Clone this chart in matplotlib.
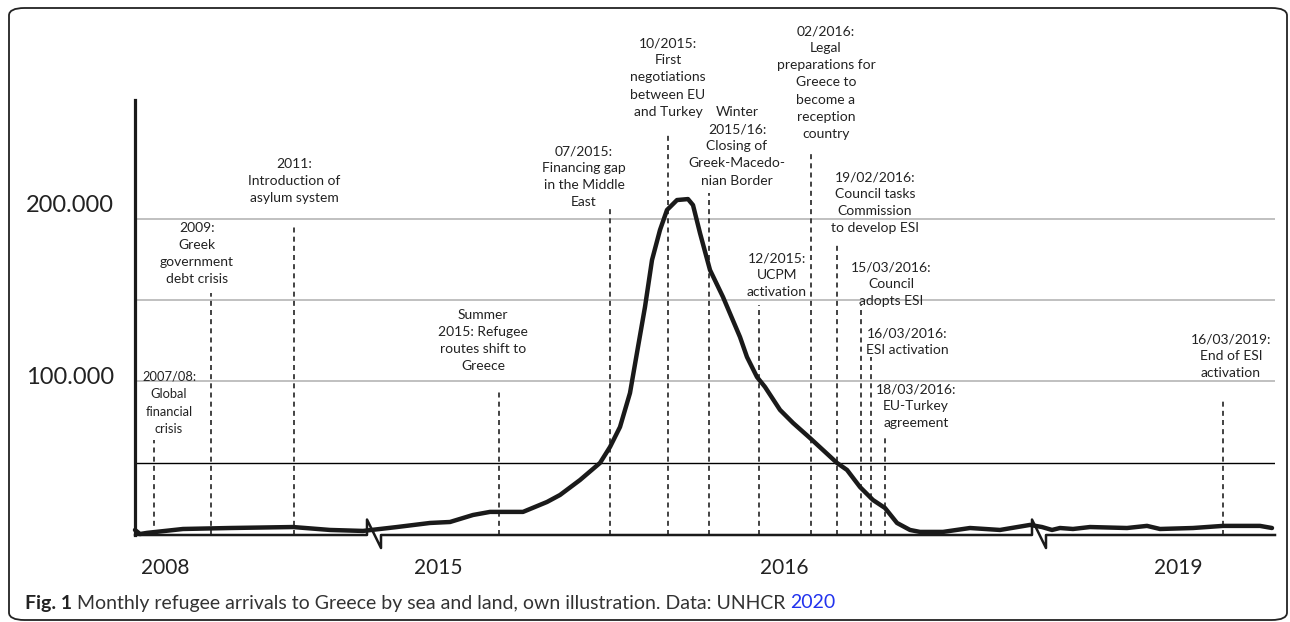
import matplotlib.pyplot as plt
from matplotlib.patches import FancyBboxPatch

plt.rcParams['font.family'] = ['Lato', 'DejaVu Sans']

# x is a schematic timeline position: the axis is broken twice, so no real date scale
curve_pos = [0, 5, 12, 48, 95, 158, 195, 228, 262, 295, 315, 338, 355, 388, 412, 425,
             445, 465, 475, 485, 495, 503, 510, 517, 525, 532, 542, 553, 558, 565, 575,
             588, 605, 612, 622, 630, 645, 658, 675, 702, 712, 725, 738, 750, 762, 775,
             785, 808, 835, 865, 895, 907, 917, 925, 938, 955, 992, 1012, 1025, 1058,
             1088, 1125, 1137]
curve_val = [8600, 6100, 6800, 9200, 9800, 10400, 8600, 8000, 10400, 12900, 13500,
             17800, 19700, 19700, 25800, 30100, 39300, 49800, 59600, 71900, 92800,
             121100, 145700, 174500, 193000, 205300, 211400, 212000, 208300, 191100,
             168400, 151800, 127200, 114900, 102600, 96500, 82400, 74400, 65100, 49800,
             45500, 35000, 27000, 22100, 12900, 8600, 7400, 7400, 9800, 8600, 11700,
             10400, 8600, 9800, 9200, 10400, 9800, 11100, 9200, 9800, 11100, 11100, 9800]

event_text = ["2007/08:\nGlobal\nfinancial\ncrisis",
              "2009:\nGreek\ngovernment\ndebt crisis",
              "2011:\nIntroduction of\nasylum system",
              "Summer\n2015: Refugee\nroutes shift to\nGreece",
              "07/2015:\nFinancing gap\nin the Middle\nEast",
              "10/2015:\nFirst\nnegotiations\nbetween EU\nand Turkey",
              "Winter\n2015/16:\nClosing of\nGreek-Macedo-\nnian Border",
              "12/2015:\nUCPM\nactivation",
              "02/2016:\nLegal\npreparations for\nGreece to\nbecome a\nreception\ncountry",
              "19/02/2016:\nCouncil tasks\nCommission\nto develop ESI",
              "15/03/2016:\nCouncil\nadopts ESI",
              "16/03/2016:\nESI activation",
              "18/03/2016:\nEU-Turkey\nagreement",
              "16/03/2019:\nEnd of ESI\nactivation"]
event_pos = [19, 76, 159, 364, 475, 533, 574, 624, 676, 702, 726, 736, 750, 1088]
event_top = [63900, 154300, 194800, 94600, 207100, 251400, 215700, 146900, 240300,
             185000, 146900, 114900, 65800, 88500]
label_pos = [34, 62, 159, 348, 449, 533, 602, 642, 691, 740, 756, 772, 781, 1096]
label_top = [106900, 198200, 237200, 144400, 245200, 311500, 269100, 179400, 318900,
             229200, 173900, 133300, 98900, 129600]

year_text = ["2008", "2015", "2016", "2019"]
year_pos = [30, 303, 649, 1043]
ytick_val = [100000, 200000]
ytick_text = ["100.000", "200.000"]
grid_val = [50000, 100000, 150000, 200000]
break_pos = [232, 897]

fig = plt.figure(figsize=(12.9, 6.22), dpi=100)
ax = fig.add_axes([135/1290, 87/622, 1140/1290, 435/622])
ax.set_xlim(0, 1140)
ax.set_ylim(5500, 272900)
ax.axis('off')

# rounded frame round the whole figure
fig.patches.append(FancyBboxPatch((9/1290, 2/622), 1278/1290, 612/622,
                                  boxstyle='round,pad=0,rounding_size=0.012',
                                  transform=fig.transFigure, fill=False,
                                  ec='#222222', lw=1.3))

for g in grid_val:
    c = 'black' if g == 50000 else '#b5b5b5'
    ax.axhline(g, color=c, lw=1.0 if g == 50000 else 1.2, zorder=1)

ax.plot([0, 0], [5500, 272900], color='#1a1a1a', lw=2.3, clip_on=False, zorder=4)

# baseline with two zigzag breaks
y0 = 5500
bx, by = [0], [y0]
for b in break_pos:
    bx += [b, b, b + 14, b + 14]
    by += [y0, 15000, -2500, y0]
bx.append(1140)
by.append(y0)
ax.plot(bx, by, color='#1a1a1a', lw=1.8, clip_on=False, zorder=4)

for p, t in zip(event_pos, event_top):
    ax.plot([p, p], [y0, t], color='#222222', lw=1.2, ls=(0, (3, 2.5)), zorder=2)

for i, (s, p, t) in enumerate(zip(event_text, label_pos, label_top)):
    fs, lsp = (9.3, 1.58) if i == 0 else (10, 1.51)
    ax.text(p, t, s, ha='center', va='top', fontsize=fs, color='#222222',
            linespacing=lsp, clip_on=False)

ax.plot(curve_pos, curve_val, color='#1a1a1a', lw=3.2, solid_joinstyle='round',
        solid_capstyle='round', zorder=5, clip_on=False)

for p, s in zip(year_pos, year_text):
    ax.annotate(s, xy=(p, 0), xycoords=('data', 'axes fraction'), xytext=(0, -24),
                textcoords='offset points', ha='center', va='center', fontsize=15,
                color='#222222')

for v, s, off in zip(ytick_val, ytick_text, [3, 9.5]):
    ax.annotate(s, xy=(-0.057, v), xycoords=('axes fraction', 'data'), xytext=(0, off),
                textcoords='offset points', ha='center', va='center', fontsize=17,
                color='#222222')

# caption: bold figure number, plain text, blue year link
r = fig.canvas.get_renderer()
t1 = fig.text(25/1290, 1 - 603/622, "Fig. 1", fontsize=14, weight='bold', va='center',
              color='#222222')
x = t1.get_window_extent(r).x1 + 5
t2 = fig.text(x/1290, 1 - 603/622, "Monthly refugee arrivals to Greece by sea and land, own illustration. Data: UNHCR",
              fontsize=14, va='center', color='#333333')
x = t2.get_window_extent(r).x1 + 5
fig.text(x/1290, 1 - 603/622, "2020", fontsize=14, va='center', color='#2233ee')

fig.savefig('out.png', dpi=100)
